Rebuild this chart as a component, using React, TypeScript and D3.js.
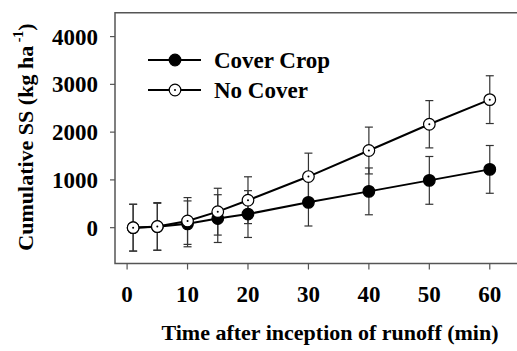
import { useEffect, useRef } from "react";
import * as d3 from "d3";

// minutes after runoff started
const times = [1, 5, 10, 15, 20, 30, 40, 50, 60];
const coverCrop = [0, 20, 80, 190, 285, 530, 760, 990, 1220];
const coverCropErr = [490, 490, 480, 500, 490, 495, 490, 500, 500];
const noCover = [0, 25, 140, 335, 575, 1070, 1615, 2165, 2680];
const noCoverErr = [490, 500, 490, 490, 490, 490, 490, 495, 500];

const xTicks = [0, 10, 20, 30, 40, 50, 60];
const yTicks = [0, 1000, 2000, 3000, 4000];
const legendLabels = ["Cover Crop", "No Cover"];

const W = 517;
const H = 351;
const FONT = "Liberation Serif";

export default function App() {
  const svgRef = useRef<SVGSVGElement>(null);

  useEffect(() => {
    if (!svgRef.current) return;
    const svg = d3.select(svgRef.current);
    svg.selectAll("*").remove();

    const x = d3.scaleLinear().domain([-2, 65]).range([115, 520]);
    const y = d3.scaleLinear().domain([-750, 4500]).range([263.5, 12.7]);

    const axisColor = "#555";

    // frame (right side runs off the image)
    svg.append("path")
      .attr("d", `M${x(65)},${y(4500)}H${x(-2)}V${y(-750)}H${x(65)}`)
      .attr("fill", "none")
      .attr("stroke", axisColor)
      .attr("stroke-width", 1.5);

    // y ticks
    const yg = svg.append("g");
    for (const t of yTicks) {
      yg.append("line")
        .attr("x1", x(-2) - 5).attr("x2", x(-2))
        .attr("y1", y(t)).attr("y2", y(t))
        .attr("stroke", axisColor).attr("stroke-width", 1.2);
      yg.append("text")
        .attr("x", 98).attr("y", y(t)).attr("dy", "0.35em")
        .attr("text-anchor", "end").style("font-size", "23px")
        .text(t);
    }

    // x ticks
    const xg = svg.append("g");
    for (const t of xTicks) {
      xg.append("line")
        .attr("x1", x(t)).attr("x2", x(t))
        .attr("y1", y(-750)).attr("y2", y(-750) + 6)
        .attr("stroke", axisColor).attr("stroke-width", 1.2);
      xg.append("text")
        .attr("x", x(t)).attr("y", 302)
        .attr("text-anchor", "middle").style("font-size", "23px")
        .text(t);
    }

    // axis titles
    svg.append("text")
      .attr("x", 330).attr("y", 340)
      .attr("text-anchor", "middle")
      .style("font-size", "22px")
      .text("Time after inception of runoff (min)");

    const yt = svg.append("text")
      .attr("transform", "translate(33,137) rotate(-90)")
      .attr("text-anchor", "middle")
      .style("font-size", "22px");
    yt.append("tspan").text("Cumulative SS (kg ha");
    yt.append("tspan").style("font-size", "14px").attr("dy", -10).text(" -1");
    yt.append("tspan").attr("dy", 10).text(")");

    const series = [
      { values: coverCrop, err: coverCropErr, filled: true },
      { values: noCover, err: noCoverErr, filled: false },
    ];

    const line = d3.line<number>()
      .x((_, i) => x(times[i]))
      .y(d => y(d));

    const drawMarker = (g: d3.Selection<SVGGElement, unknown, null, undefined>, cx: number, cy: number, filled: boolean) => {
      g.append("circle")
        .attr("cx", cx).attr("cy", cy).attr("r", 5.8)
        .attr("fill", filled ? "#000" : "#fff")
        .attr("stroke", "#000").attr("stroke-width", 1.2);
      if (!filled) {
        g.append("circle").attr("cx", cx).attr("cy", cy).attr("r", 1).attr("fill", "#000");
      }
    };

    // error bars first
    const eg = svg.append("g");
    for (const s of series) {
      s.values.forEach((v, i) => {
        const cx = x(times[i]);
        const top = y(v + s.err[i]);
        const bot = y(v - s.err[i]);
        eg.append("line").attr("x1", cx).attr("x2", cx).attr("y1", top).attr("y2", bot)
          .attr("stroke", "#333").attr("stroke-width", 1.2);
        for (const yy of [top, bot]) {
          eg.append("line").attr("x1", cx - 4).attr("x2", cx + 4).attr("y1", yy).attr("y2", yy)
            .attr("stroke", "#333").attr("stroke-width", 1.2);
        }
      });
    }

    // lines
    for (const s of series) {
      svg.append("path")
        .datum(s.values)
        .attr("fill", "none")
        .attr("stroke", "#000")
        .attr("stroke-width", 2)
        .attr("d", line);
    }

    // markers
    const mg = svg.append("g");
    for (const s of series) {
      s.values.forEach((v, i) => drawMarker(mg, x(times[i]), y(v), s.filled));
    }

    // legend
    const lg = svg.append("g");
    legendLabels.forEach((label, i) => {
      const ly = 60 + i * 30;
      lg.append("line").attr("x1", 148).attr("x2", 201).attr("y1", ly).attr("y2", ly)
        .attr("stroke", "#000").attr("stroke-width", 2);
      drawMarker(lg, 175, ly, i === 0);
      lg.append("text")
        .attr("x", 214).attr("y", ly).attr("dy", "0.33em")
        .style("font-size", "23px")
        .text(label);
    });
  }, []);

  return (
    <svg
      ref={svgRef}
      width={W}
      height={H}
      style={{ position: "absolute", left: 0, top: 0, background: "#fff", fontFamily: FONT, fontWeight: "bold" }}
    />
  );
}
